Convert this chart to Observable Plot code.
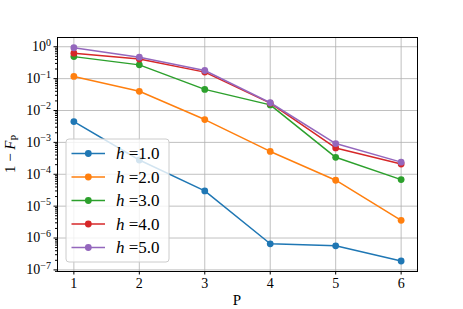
<!DOCTYPE html>
<html>
<head>
<meta charset="utf-8">
<script src="https://cdn.jsdelivr.net/npm/d3@7"></script>
<script src="https://cdn.jsdelivr.net/npm/@observablehq/plot@0.6"></script>
<style>
  html, body { margin: 0; padding: 0; background: #fff; }
  #chart svg { display: block; }
</style>
</head>
<body>
<div id="chart"></div>
<script>
const P = [1, 2, 3, 4, 5, 6];
const hLabels = ["1.0", "2.0", "3.0", "4.0", "5.0"];
const h1 = [4.5e-3, 2.8e-4, 3.0e-5, 6.6e-7, 5.7e-7, 1.9e-7];
const h2 = [0.117, 0.040, 5.2e-3, 5.2e-4, 6.5e-5, 3.6e-6];
const h3 = [0.49, 0.27, 0.046, 0.015, 3.4e-4, 6.8e-5];
const h4 = [0.63, 0.41, 0.16, 0.017, 6.7e-4, 2.1e-4];
const h5 = [0.93, 0.47, 0.18, 0.0175, 9.2e-4, 2.4e-4];
const seriesValues = [h1, h2, h3, h4, h5];
const colors = ["#1f77b4", "#ff7f0e", "#2ca02c", "#d62728", "#9467bd"];
const yExponents = [-7, -6, -5, -4, -3, -2, -1, 0];
const xTicks = [1, 2, 3, 4, 5, 6];

const yDomain = [Math.pow(10, -7.05), Math.pow(10, 0.29)];
const yTicks = yExponents.map(e => Math.pow(10, e));
const yMinor = [];
for (let e = -8; e <= 0; e++) for (let m = 2; m <= 9; m++) {
  const v = m * Math.pow(10, e);
  if (v >= yDomain[0] && v <= yDomain[1]) yMinor.push(v);
}

const W = 463, H = 309;
const mL = 57, mR = 46, mT = 37, mB = 38;
const font = "'Liberation Serif', 'DejaVu Serif', serif";

const marks = [
  Plot.gridX(xTicks, {stroke: "#b0b0b0", strokeOpacity: 0.8, strokeWidth: 1}),
  Plot.gridY(yTicks, {stroke: "#b0b0b0", strokeOpacity: 0.8, strokeWidth: 1}),
];
seriesValues.forEach((vals, i) => {
  const rows = P.map((p, j) => ({p, v: vals[j]}));
  marks.push(Plot.line(rows, {x: "p", y: "v", stroke: colors[i], strokeWidth: 1.5}));
  marks.push(Plot.dot(rows, {x: "p", y: "v", fill: colors[i], r: 3.4, stroke: "none"}));
});
marks.push(
  Plot.axisX({ticks: xTicks, tickSize: 3.5, tickPadding: 3, tickFormat: d => String(d), fontSize: 14, label: null}),
  Plot.axisY({ticks: yMinor, tickSize: 2, tickFormat: () => "", label: null}),
  Plot.axisY({ticks: yTicks, tickSize: 3.5, tickFormat: () => "", label: null}),
  Plot.frame({stroke: "black", strokeWidth: 1})
);

const plot = Plot.plot({
  width: W, height: H,
  marginLeft: mL, marginRight: mR, marginTop: mT, marginBottom: mB,
  style: {fontFamily: font, fontSize: "14px", color: "#000", background: "#fff"},
  x: {type: "linear", domain: [0.75, 6.25]},
  y: {type: "log", domain: yDomain},
  marks
});

const svg = d3.select(plot);
const ys = plot.scale("y");

// y tick labels 10^n
const tl = svg.append("g").attr("font-family", font).attr("fill", "black").attr("text-anchor", "end");
yExponents.forEach(e => {
  const y = ys.apply(Math.pow(10, e));
  const t = tl.append("text").attr("x", mL - 6).attr("y", y).attr("dy", "0.35em")
    .attr("font-size", 14);
  t.append("tspan").text("10");
  t.append("tspan").attr("font-size", 10).attr("dy", "-0.55em").text(e < 0 ? "\u2212" + (-e) : String(e));
});

// axis labels
const xMid = (mL + (W - mR)) / 2;
const yMid = (mT + (H - mB)) / 2;
svg.append("text").attr("x", xMid).attr("y", H - 4).attr("text-anchor", "middle")
  .attr("font-family", font).attr("font-size", 15).attr("fill", "black").text("P");
const yl = svg.append("text").attr("transform", `translate(15,${yMid}) rotate(-90)`)
  .attr("text-anchor", "middle").attr("font-family", font).attr("font-size", 15).attr("fill", "black");
yl.append("tspan").text("1 \u2212 ");
yl.append("tspan").attr("font-style", "italic").text("F");
yl.append("tspan").attr("font-size", 10).attr("dy", "0.3em").text("P");

// legend
const lx = mL + 9, lyTop = 139, lw = 103, lh = 123, rowH = 23.5;
const lg = svg.append("g").attr("text-anchor", "start");
lg.append("rect").attr("x", lx).attr("y", lyTop).attr("width", lw).attr("height", lh)
  .attr("rx", 3).attr("fill", "white").attr("fill-opacity", 0.8)
  .attr("stroke", "#cccccc").attr("stroke-width", 1);
hLabels.forEach((lab, i) => {
  const cy = lyTop + 14.5 + i * rowH;
  lg.append("line").attr("x1", lx + 5.5).attr("x2", lx + 39).attr("y1", cy).attr("y2", cy)
    .attr("stroke", colors[i]).attr("stroke-width", 1.5);
  lg.append("circle").attr("cx", lx + 22.3).attr("cy", cy).attr("r", 3.4).attr("fill", colors[i]);
  const t = lg.append("text").attr("x", lx + 50).attr("y", cy).attr("dy", "0.35em")
    .attr("font-family", font).attr("font-size", 17).attr("fill", "black");
  t.append("tspan").attr("font-style", "italic").text("h");
  t.append("tspan").text(" =" + lab);
});

document.getElementById("chart").appendChild(plot);
</script>
</body>
</html>
